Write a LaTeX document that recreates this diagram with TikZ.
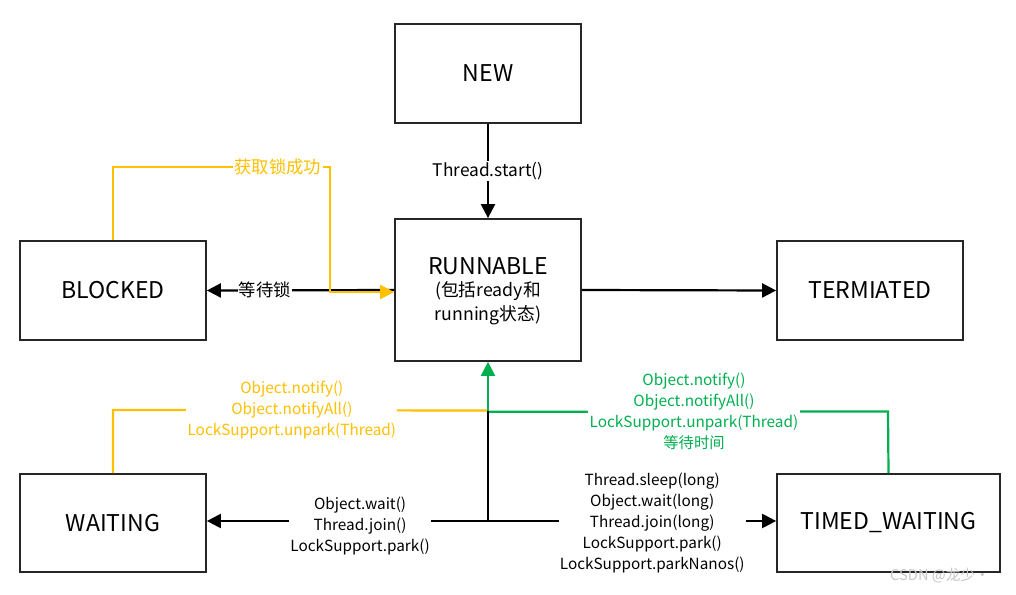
\documentclass[tikz,border=0pt]{standalone}
\usepackage{fontspec}
\setmainfont{Noto Sans CJK SC}
\usetikzlibrary{arrows.meta}
\definecolor{myorange}{RGB}{255,192,0}
\definecolor{mygreen}{RGB}{0,176,80}
\begin{document}
\begin{tikzpicture}[x=0.75pt,y=-0.75pt,
  box/.style={draw=black!85, line width=1.3pt, minimum width=139.5pt, minimum height=74.25pt, inner sep=0pt, font=\fontsize{17.3}{20}\selectfont},
  conn/.style={line width=1.65pt},
  tip/.style={-{Triangle[length=10.5pt,width=10.5pt]}},
  lbl/.style={fill=white, inner sep=1pt, align=center, font=\fontsize{11.5}{15.75}\selectfont},
  biglbl/.style={fill=white, inner sep=1pt, align=center, font=\fontsize{13}{16}\selectfont}
]
\useasboundingbox (0,0) rectangle (1016,595);
\fill[white] (0,0) rectangle (1016,595);
\node[box] (new) at (488,73.5) {NEW};
\node[box, minimum height=106.5pt] (run) at (488,290) {};
\node[font=\fontsize{17.3}{20}\selectfont] (runt) at (488,266) {RUNNABLE};
\node[align=center, font=\fontsize{13.3}{18}\selectfont] (runs) at (488,303) {(包括ready和\\running状态)};
\node[box] (blk) at (113,290.5) {BLOCKED};
\node[box] (term) at (870,290.5) {TERMIATED};
\node[box, minimum height=73.5pt] (wait) at (113,523) {WAITING};
\node[box, minimum width=167.25pt, minimum height=73.5pt] (tw) at (888.5,523) {TIMED\_WAITING};

\draw[conn,tip] (new) -- node[biglbl] (startlbl) {Thread.start()} (run);
\draw[conn,tip] (run.east) -- (term.west);
\draw[conn,tip] (run.west) -- node[biglbl,pos=0.69] (waitlock) {等待锁} (blk.east);

\coordinate (o1) at (113,167);
\coordinate (o2) at (330,167);
\coordinate (o3) at (330,292);
\draw[conn,myorange,tip] (blk.north) -- (o1) -- node[biglbl,text=myorange,pos=0.76] (gotlock) {获取锁成功} (o2) -- (o3) -- ([yshift=-1.5pt]run.west);

\coordinate (j) at (488,521);
\coordinate (jg) at (488,410.5);
\coordinate (wo1) at (113,410);
\coordinate (go1) at (888,411.5);

\draw[conn,myorange] (wait.north) -- (wo1) -- node[lbl,text=myorange,pos=0.477] (wnotify) {Object.notify()\\Object.notifyAll()\\LockSupport.unpark(Thread)} (jg);
\draw[conn,mygreen] (tw.north) -- (go1) -- node[lbl,text=mygreen,pos=0.485] (tnotify) {Object.notify()\\Object.notifyAll()\\LockSupport.unpark(Thread)\\等待时间} ([yshift=-1pt]jg);
\draw[conn] (j) -- (jg);
\draw[conn,mygreen,tip] (jg) -- (run.south);
\draw[conn,tip] (j) -- node[lbl,pos=0.455,yshift=-3.75pt] (wlbl) {Object.wait()\\Thread.join()\\LockSupport.park()} (j -| wait.east);
\draw[conn,tip] (j) -- node[lbl,pos=0.57,yshift=-1.5pt] (twlbl) {Thread.sleep(long)\\Object.wait(long)\\Thread.join(long)\\LockSupport.park()\\LockSupport.parkNanos()} (j -| tw.west);

\node[text=black!22, font=\fontsize{11}{13}\selectfont] (wm) at (940,576) {CSDN @龙少·};
\end{tikzpicture}
\end{document}
